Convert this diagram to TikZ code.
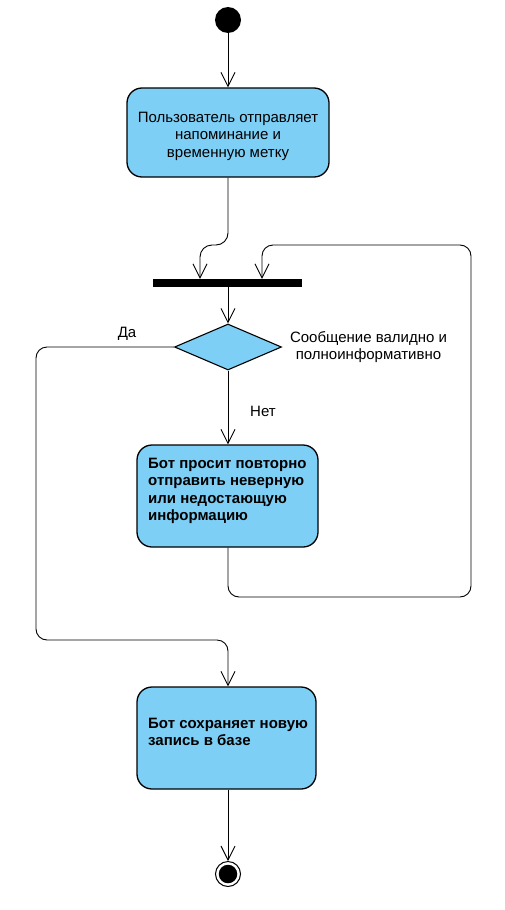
\documentclass[tikz,border=0pt]{standalone}
\usepackage{fontspec}
\setmainfont{Liberation Sans}
\usetikzlibrary{arrows.meta,shapes.geometric}
\definecolor{actfill}{RGB}{126,207,245}
\tikzset{
  act/.style={draw=black, line width=1.3pt, fill=actfill, rounded corners=15pt, inner sep=0pt},
  flow/.style={draw=black, line width=0.9pt, -{Straight Barb[length=14pt,width=14pt,line width=0.9pt]}},
  txt/.style={font=\fontsize{15}{17.5}\selectfont, inner sep=0pt},
  btxt/.style={font=\fontsize{15}{17.5}\selectfont\bfseries, inner sep=0pt, anchor=base west},
}
\begin{document}
\begin{tikzpicture}[x=1pt,y=-1pt]
\useasboundingbox (0,0) rectangle (504,910);
% nodes
\node[circle, fill=black, minimum size=26pt, inner sep=0pt] (start) at (228,20) {};
\node[act, minimum width=202pt, minimum height=89pt] (b1) at (228,132.5) {};
\node[txt, anchor=base] (b1l1) at (228,122) {Пользователь отправляет};
\node[txt, anchor=base] (b1l2) at (228,139.5) {напоминание и};
\node[txt, anchor=base] (b1l3) at (228,157) {временную метку};
\node[rectangle, fill=black, minimum width=149pt, minimum height=8pt, inner sep=0pt] (bar) at (227.5,283) {};
\node[diamond, draw=black, line width=1.1pt, fill=actfill, minimum width=107pt, minimum height=46pt, inner sep=0pt] (dec) at (228,347) {};
\node[txt, anchor=base] (da) at (127,337) {Да};
\node[txt, anchor=base] (c1) at (368.5,342) {Сообщение валидно и};
\node[txt, anchor=base] (c2) at (368.5,359) {полноинформативно};
\node[txt, anchor=base west] (net) at (250,416) {Нет};
\node[act, minimum width=181pt, minimum height=102pt] (b2) at (227.5,496) {};
\node[btxt] (b2l1) at (148,468) {Бот просит повторно};
\node[btxt] (b2l2) at (148,485.5) {отправить неверную};
\node[btxt] (b2l3) at (148,503) {или недостающую};
\node[btxt] (b2l4) at (148,520.5) {информацию};
\node[act, minimum width=179pt, minimum height=102pt] (b3) at (226.5,738) {};
\node[btxt] (b3l1) at (148,728) {Бот сохраняет новую};
\node[btxt] (b3l2) at (148,745) {запись в базе};
\node[circle, draw=black, line width=1pt, fill=white, minimum size=25pt, inner sep=0pt] (end) at (228,874) {};
\node[circle, fill=black, minimum size=18.5pt, inner sep=0pt] (endin) at (228,874) {};
% connectors
\draw[flow] (start) -- (b1.north -| start);
\draw[flow, rounded corners=12pt] (b1.south) -- (228,245) -- (200,245) -- (bar.north -| 200,0);
\draw[flow] (bar.south -| dec.north) -- (dec.north);
\draw[flow] (dec.south) -- (b2.north -| dec.south);
\draw[flow, rounded corners=11pt] (b2.south -| dec.south) -- (228,597) -- (471,597) -- (471,245) -- (262,245) -- (bar.north -| 262,0);
\draw[flow, rounded corners=11pt] (dec.west) -- (36,347) -- (36,640) -- (228,640) -- (b3.north -| dec.south);
\draw[flow] (b3.south -| end.north) -- (end.north);
\end{tikzpicture}
\end{document}
